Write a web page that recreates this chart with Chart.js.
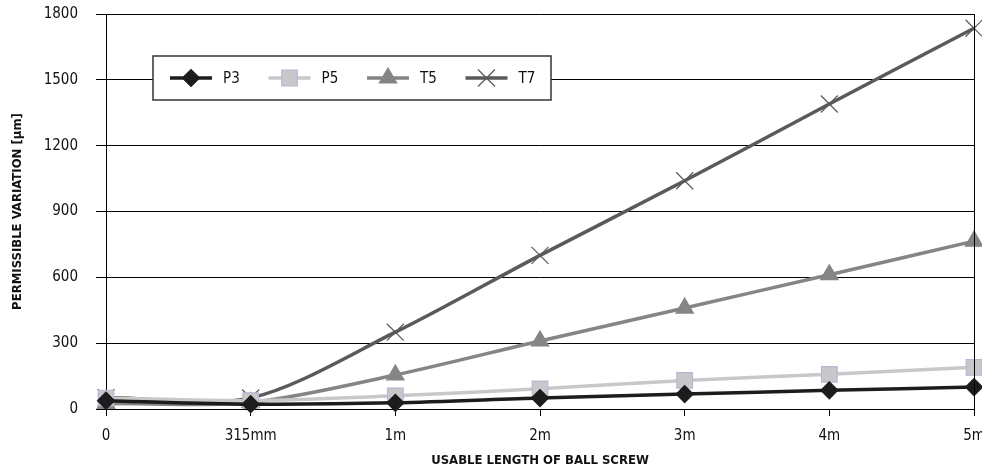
<!DOCTYPE html>
<html>
<head>
<meta charset="utf-8">
<script src="https://cdn.jsdelivr.net/npm/chart.js@4/dist/chart.umd.min.js"></script>
<style>
  html, body { margin: 0; padding: 0; background: #fff; }
  #wrap { width: 982px; height: 474px; position: relative; }
</style>
</head>
<body>
<div id="wrap"><canvas id="chart" width="982" height="474"></canvas></div>
<script>
// categories and series
const lengths = ['0', '315mm', '1m', '2m', '3m', '4m', '5m'];
const p3 = [38, 22, 28, 50, 68, 85, 100];
const p5 = [50, 38, 60, 92, 130, 158, 190];
const t5 = [25, 30, 155, 310, 460, 612, 765];
const t7 = [52, 50, 350, 700, 1040, 1390, 1735];
const yTicks = [0, 300, 600, 900, 1200, 1500, 1800];

const FONT = '"DejaVu Sans Condensed", "Liberation Sans Narrow", sans-serif';

const series = [
  { label: 'P3', data: p3, color: '#1c1c1c', fill: '#1c1c1c', border: '#1c1c1c', style: 'rectRot', radius: 8.5, width: 3.5 },
  { label: 'P5', data: p5, color: '#c8c8c8', fill: '#c8c8c8', border: '#b4b8d4', style: 'rect', radius: 11, width: 3.5 },
  { label: 'T5', data: t5, color: '#858585', fill: '#858585', border: '#858585', style: 'triangle', radius: 10, width: 3.5 },
  { label: 'T7', data: t7, color: '#5a5a5a', fill: '#5a5a5a', border: '#5a5a5a', style: 'crossRot', radius: 12, width: 3.5 }
];

// legend box drawn inside the plot, plus right border line
const boxLegend = {
  id: 'boxLegend',
  afterDatasetsDraw(chart) {
    const ctx = chart.ctx;
    const a = chart.chartArea;
    ctx.save();
    ctx.strokeStyle = '#000';
    ctx.lineWidth = 1;
    ctx.beginPath();
    ctx.moveTo(a.right + 0.5, a.top);
    ctx.lineTo(a.right + 0.5, a.bottom);
    ctx.stroke();

    const x0 = 153, y0 = 56, w = 398, h = 44;
    ctx.fillStyle = '#fff';
    ctx.fillRect(x0, y0, w, h);
    ctx.strokeStyle = '#333';
    ctx.lineWidth = 1.5;
    ctx.strokeRect(x0, y0, w, h);

    const cy = y0 + h / 2;
    series.forEach((s, i) => {
      const lx = x0 + 17 + i * 98.5;
      ctx.strokeStyle = s.color;
      ctx.lineWidth = s.width;
      ctx.beginPath();
      ctx.moveTo(lx, cy);
      ctx.lineTo(lx + 42, cy);
      ctx.stroke();
      ctx.fillStyle = s.fill;
      ctx.strokeStyle = s.style === 'crossRot' ? s.color : s.border;
      ctx.lineWidth = 1.2;
      Chart.helpers.drawPoint(ctx, { pointStyle: s.style, radius: s.radius, rotation: 0, borderWidth: 1.2 }, lx + 21, cy);
      ctx.fillStyle = '#111';
      ctx.font = '15px ' + FONT;
      ctx.textBaseline = 'middle';
      ctx.fillText(s.label, lx + 53, cy + 1);
    });
    ctx.restore();
  }
};

new Chart(document.getElementById('chart'), {
  type: 'line',
  data: {
    labels: lengths,
    datasets: series.map(s => ({
      label: s.label,
      data: s.data,
      borderColor: s.color,
      borderWidth: s.width,
      backgroundColor: s.fill,
      pointBackgroundColor: s.fill,
      pointBorderColor: s.style === 'crossRot' ? s.color : s.border,
      pointBorderWidth: 1.2,
      pointStyle: s.style,
      pointRadius: s.radius,
      tension: 0.3,
      clip: false
    }))
  },
  options: {
    responsive: false,
    animation: false,
    layout: { autoPadding: false, padding: { top: 14, right: 8, left: 0, bottom: 0 } },
    plugins: {
      legend: { display: false },
      tooltip: { enabled: false }
    },
    scales: {
      x: {
        offset: false,
        grid: { display: true, drawOnChartArea: false, drawTicks: true, tickLength: 7, color: '#000' },
        border: { display: true, color: '#000', width: 1 },
        ticks: { color: '#111', font: { family: FONT, size: 15 }, padding: 11, maxRotation: 0 },
        title: { display: true, text: 'USABLE LENGTH OF BALL SCREW', color: '#111', font: { family: FONT, size: 13, weight: 'bold' }, padding: { top: 4, bottom: 6 } },
        afterFit(scale) {
          scale.height = 65;
          scale.paddingLeft = 0;
          scale.paddingRight = 0;
        }
      },
      y: {
        min: 0,
        max: 1800,
        afterBuildTicks(scale) { scale.ticks = yTicks.map(v => ({ value: v })); },
        grid: { color: '#000', lineWidth: 1, tickLength: 10 },
        border: { display: true, color: '#000', width: 1 },
        ticks: { color: '#111', font: { family: FONT, size: 15 }, padding: 18, callback: v => String(v) },
        title: { display: true, text: 'PERMISSIBLE VARIATION [µm]', color: '#111', font: { family: FONT, size: 13, weight: 'bold' }, padding: { top: 10, bottom: 8 } },
        afterFit(scale) {
          scale.width = 106;
          scale.paddingTop = 0;
          scale.paddingBottom = 0;
        }
      }
    }
  },
  plugins: [boxLegend]
});
</script>
</body>
</html>
